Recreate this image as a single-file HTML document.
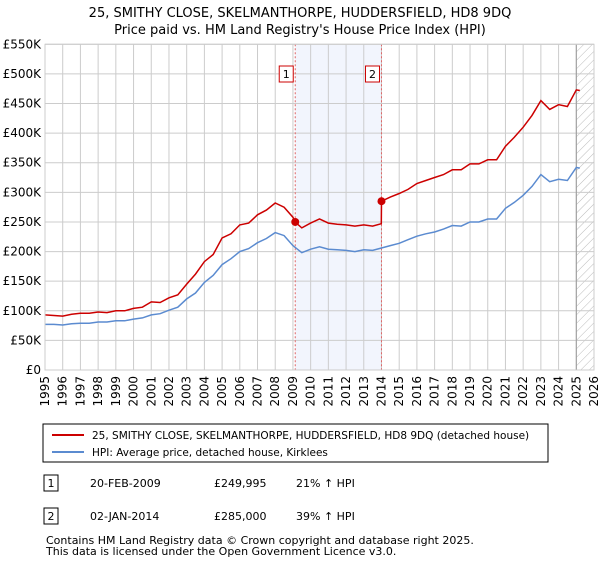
<!DOCTYPE html>
<html><head><meta charset="utf-8"><style>
body{margin:0;background:#fff;font-family:"Liberation Sans","DejaVu Sans",sans-serif;}
svg text{font-family:"DejaVu Sans","Liberation Sans",sans-serif;}
</style></head><body>
<svg width="600" height="560" viewBox="0 0 600 560">
<defs><pattern id="hatch" width="6" height="6" patternUnits="userSpaceOnUse" patternTransform="rotate(45)"><line x1="0" y1="0" x2="0" y2="6" stroke="#bbb" stroke-width="1"/></pattern></defs>
<text x="300" y="17" text-anchor="middle" font-size="13">25, SMITHY CLOSE, SKELMANTHORPE, HUDDERSFIELD, HD8 9DQ</text>
<text x="300" y="34" text-anchor="middle" font-size="13">Price paid vs. HM Land Registry's House Price Index (HPI)</text>
<g id="plot"></g>
<g>
<rect x="43" y="424" width="505" height="38" fill="#fff" stroke="#000" stroke-width="1"/>
<line x1="52" y1="435" x2="84" y2="435" stroke="#cc0000" stroke-width="2"/>
<text x="92" y="439" font-size="10.5">25, SMITHY CLOSE, SKELMANTHORPE, HUDDERSFIELD, HD8 9DQ (detached house)</text>
<line x1="52" y1="452" x2="84" y2="452" stroke="#5b8bd0" stroke-width="2"/>
<text x="92" y="456" font-size="10.5">HPI: Average price, detached house, Kirklees</text>
</g>
<g font-size="11">
<rect x="44" y="475" width="14" height="16" fill="#fff" stroke="#000"/><text x="51" y="487" text-anchor="middle">1</text>
<text x="90" y="487">20-FEB-2009</text><text x="214" y="487">£249,995</text><text x="296" y="487">21% ↑ HPI</text>
<rect x="44" y="508" width="14" height="16" fill="#fff" stroke="#000"/><text x="51" y="520" text-anchor="middle">2</text>
<text x="90" y="520">02-JAN-2014</text><text x="214" y="520">£285,000</text><text x="296" y="520">39% ↑ HPI</text>
</g>
<text x="46" y="544" font-size="11">Contains HM Land Registry data © Crown copyright and database right 2025.</text>
<text x="46" y="555" font-size="11">This data is licensed under the Open Government Licence v3.0.</text>
</svg>
<script>
const yTicks=[0,50,100,150,200,250,300,350,400,450,500,550];
const yTickLabels=["£0","£50K","£100K","£150K","£200K","£250K","£300K","£350K","£400K","£450K","£500K","£550K"];
const xYears=[1995,1996,1997,1998,1999,2000,2001,2002,2003,2004,2005,2006,2007,2008,2009,2010,2011,2012,2013,2014,2015,2016,2017,2018,2019,2020,2021,2022,2023,2024,2025,2026];
const hpiDates=[1995,1995.5,1996,1996.5,1997,1997.5,1998,1998.5,1999,1999.5,2000,2000.5,2001,2001.5,2002,2002.5,2003,2003.5,2004,2004.5,2005,2005.5,2006,2006.5,2007,2007.5,2008,2008.5,2009,2009.5,2010,2010.5,2011,2011.5,2012,2012.5,2013,2013.5,2014,2014.5,2015,2015.5,2016,2016.5,2017,2017.5,2018,2018.5,2019,2019.5,2020,2020.5,2021,2021.5,2022,2022.5,2023,2023.5,2024,2024.5,2025,2025.2];
const hpiValues=[77,77,76,78,79,79,81,81,83,83,86,88,93,95,101,106,120,130,148,160,178,188,200,205,215,222,232,227,210,198,204,208,204,203,202,200,203,202,206,210,214,220,226,230,233,238,244,243,250,250,255,255,273,283,295,310,330,318,322,320,342,341];
const priceDates=[1995,1995.5,1996,1996.5,1997,1997.5,1998,1998.5,1999,1999.5,2000,2000.5,2001,2001.5,2002,2002.5,2003,2003.5,2004,2004.5,2005,2005.5,2006,2006.5,2007,2007.5,2008,2008.5,2009,2009.13,2009.5,2010,2010.5,2011,2011.5,2012,2012.5,2013,2013.5,2013.99,2014,2014.5,2015,2015.5,2016,2016.5,2017,2017.5,2018,2018.5,2019,2019.5,2020,2020.5,2021,2021.5,2022,2022.5,2023,2023.5,2024,2024.5,2025,2025.2];
const priceValues=[93,92,91,94,96,96,98,97,100,100,104,106,115,114,122,127,145,162,183,195,223,230,245,248,262,270,282,275,258,250,240,248,255,248,246,245,243,245,243,247,285,292,298,305,315,320,325,330,338,338,348,348,355,355,378,393,410,430,455,440,448,445,473,472];
const saleDates=[2009.13,2014.0];
const saleValues=[250,285];
const saleLabels=["1","2"];
const NS="http://www.w3.org/2000/svg";
const X0=45,X1=594,Y0=370,Y1=44.3;
const xs=d=>X0+(d-1995)/(2026-1995)*(X1-X0);
const ys=v=>Y0-v/550*(Y0-Y1);
const g=document.getElementById('plot');
function mk(t,a){const e=document.createElementNS(NS,t);for(const k in a)e.setAttribute(k,a[k]);g.appendChild(e);return e;}
let e;
e=mk('rect',{x:xs(saleDates[0]),y:Y1,width:xs(saleDates[1])-xs(saleDates[0]),height:Y0-Y1,fill:'#f2f5fd'});


e=mk('rect',{x:xs(2025),y:Y1,width:X1-xs(2025),height:Y0-Y1,fill:'url(#hatch)'});


yTicks.forEach((v,i)=>{
 e=mk('line',{x1:X0,x2:X1,y1:ys(v),y2:ys(v),stroke:'#ccc','stroke-width':1});
 
 
 e=mk('text',{x:X0-4,y:ys(v)+4,'text-anchor':'end','font-size':12});
 e.textContent=yTickLabels[i];
 
 
});
xYears.forEach(y=>{
 e=mk('line',{x1:xs(y),x2:xs(y),y1:Y1,y2:Y0,stroke:'#ccc','stroke-width':1});
 
 
 e=mk('text',{x:0,y:0,'text-anchor':'end','font-size':12,transform:`translate(${xs(y)+4},${Y0+6}) rotate(-90)`});
 e.textContent=y;
 
 
});
e=mk('line',{x1:xs(2025),x2:xs(2025),y1:Y1,y2:Y0,stroke:'#999','stroke-width':1});


saleDates.forEach((d,i)=>{
 e=mk('line',{x1:xs(d),x2:xs(d),y1:Y1,y2:Y0,stroke:'#e06666','stroke-width':1,'stroke-dasharray':'2,2'});
 
 
});
const pts=(D,V)=>D.map((d,i)=>xs(d).toFixed(1)+','+ys(V[i]).toFixed(1)).join(' ');
e=mk('polyline',{points:pts(hpiDates,hpiValues),fill:'none',stroke:'#5b8bd0','stroke-width':1.5});


e=mk('polyline',{points:pts(priceDates,priceValues),fill:'none',stroke:'#cc0000','stroke-width':1.5});


saleDates.forEach((d,i)=>{
 e=mk('circle',{cx:xs(d),cy:ys(saleValues[i]),r:4,fill:'#cc0000'});
 
 
 e=mk('rect',{x:xs(d)-16,y:66,width:14,height:16,fill:'#fff',stroke:'#cc0000'});
 
 
 e=mk('text',{x:xs(d)-9,y:78,'text-anchor':'middle','font-size':11});
 e.textContent=saleLabels[i];
 
 
});
e=mk('rect',{x:X0,y:Y1,width:X1-X0,height:Y0-Y1,fill:'none',stroke:'#ccc'});


</script>
</body></html>
